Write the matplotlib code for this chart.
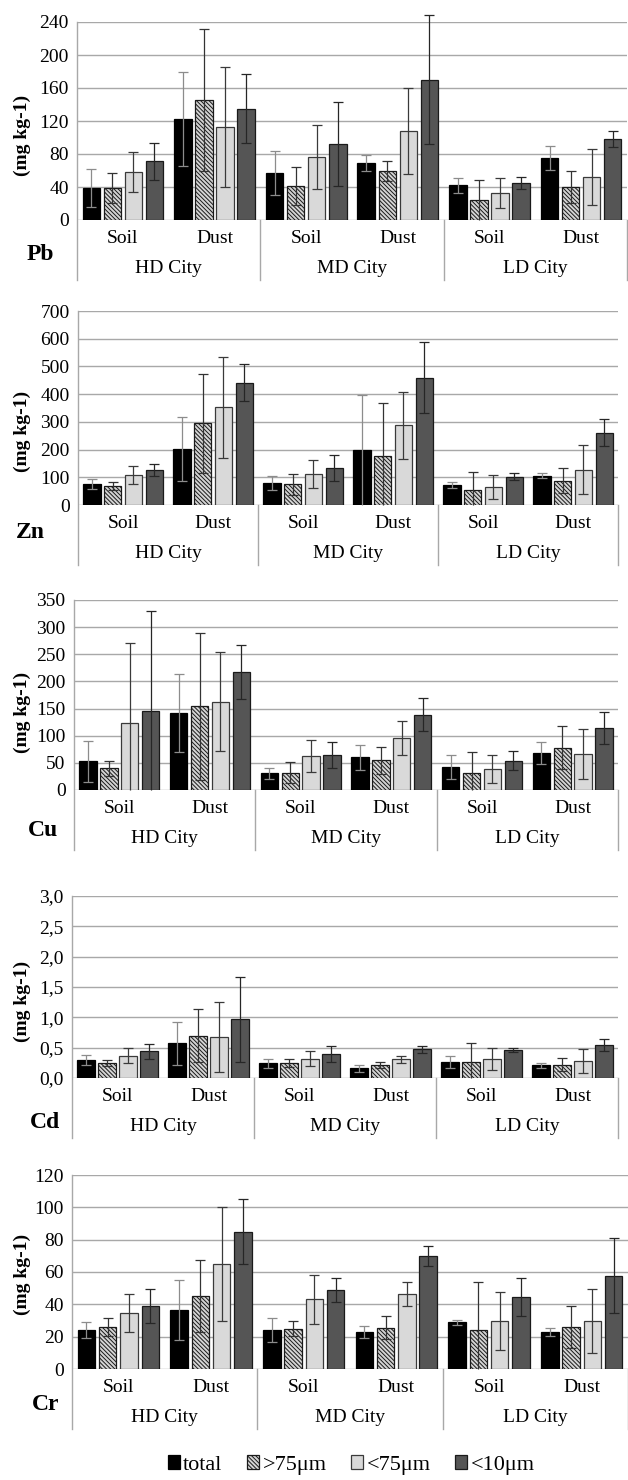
import numpy as np
import matplotlib
matplotlib.use("Agg")
import matplotlib.pyplot as plt
from matplotlib.patches import Patch
from matplotlib.ticker import FuncFormatter, MultipleLocator
from matplotlib.transforms import blended_transform_factory

plt.rcParams["font.family"] = ["Liberation Serif", "DejaVu Serif"]
plt.rcParams["hatch.linewidth"] = 0.7
plt.rcParams["hatch.color"] = "#404040"

# groups: HD Soil, HD Dust, MD Soil, MD Dust, LD Soil, LD Dust
sample_labels = ["Soil", "Dust"] * 3
city_labels = ["HD City", "MD City", "LD City"]
series_labels = ["total", ">75μm", "<75μm", "<10μm"]

# rows: total, >75um, <75um, <10um
pb_mean = [[39, 122, 57, 69, 42, 75],
           [39, 145, 41, 59, 24, 40],
           [58, 113, 76, 108, 33, 52],
           [71, 135, 92, 170, 45, 98]]
pb_err = [[23, 57, 27, 10, 9.5, 14.5],
          [18, 86, 23, 12, 25, 19],
          [24, 73, 39, 52, 18, 34],
          [22, 42, 51, 78, 7.5, 10]]

zn_mean = [[75, 201, 78, 198, 72, 105],
           [69, 295, 75, 178, 53, 88],
           [108, 353, 111, 287, 65, 127],
           [127, 442, 132, 460, 102, 261]]
zn_err = [[19, 116, 25, 200, 10, 9],
          [15, 178, 38, 189, 67, 45],
          [33, 182, 50, 122, 42, 88],
          [22, 67, 47, 128, 12, 48]]

cu_mean = [[53, 142, 31, 60, 43, 68],
           [40, 154, 32, 55, 32, 78],
           [123, 163, 63, 96, 39, 66],
           [146, 217, 65, 139, 54, 114]]
cu_err = [[38, 72, 10, 23, 22, 20],
          [14, 135, 19, 25, 38, 40],
          [147, 91, 30, 32, 26, 46],
          [183, 50, 24, 30, 18, 29]]

cd_mean = [[0.30, 0.575, 0.24, 0.16, 0.27, 0.21],
           [0.24, 0.70, 0.25, 0.21, 0.26, 0.22],
           [0.37, 0.68, 0.32, 0.31, 0.31, 0.28],
           [0.44, 0.97, 0.39, 0.47, 0.46, 0.55]]
cd_err = [[0.085, 0.355, 0.07, 0.055, 0.10, 0.04],
          [0.05, 0.43, 0.065, 0.05, 0.32, 0.11],
          [0.13, 0.58, 0.13, 0.055, 0.18, 0.19],
          [0.12, 0.70, 0.13, 0.06, 0.035, 0.10]]

cr_mean = [[24, 36.5, 24, 23, 28.8, 22.8],
           [26, 45, 25, 25.5, 24.3, 25.7],
           [34.5, 65, 43, 46.5, 29.6, 29.6],
           [39, 85, 49, 70, 44.3, 57.8]]
cr_err = [[5, 18.7, 7.5, 3.6, 1.8, 2.4],
          [5.7, 22.3, 4.7, 7, 29.4, 13],
          [11.7, 35, 15, 7.6, 18, 20],
          [10.4, 20, 7.4, 6.2, 11.7, 23]]

W, H = 628, 1480
GRID = "#a8a8a8"

# element, mean, err, ymax, step, decimal comma, (left, right, top, zero) px,
# element label (x, y) px, y-label centre y px
panels = [
    ("Pb", pb_mean, pb_err, 240, 40, False, (77, 627, 22, 220), (40, 255), 135),
    ("Zn", zn_mean, zn_err, 700, 100, False, (78, 618, 311, 505), (30, 532), 431),
    ("Cu", cu_mean, cu_err, 350, 50, False, (74, 618, 600, 790), (43, 830), 712),
    ("Cd", cd_mean, cd_err, 3.0, 0.5, True, (72, 618, 896, 1078), (45, 1122), 1001),
    ("Cr", cr_mean, cr_err, 120, 20, False, (72, 628, 1175, 1369), (46, 1404), 1274),
]

styles = [
    dict(color="#000000", edgecolor="#000000"),
    dict(color="#d4d4d4", edgecolor="#1a1a1a", hatch="\\\\\\\\\\\\\\\\"),
    dict(color="#d9d9d9", edgecolor="#3a3a3a"),
    dict(color="#555555", edgecolor="#1a1a1a"),
]
err_colors = ["#8c8c8c", "#333333", "#3a3a3a", "#262626"]

fig = plt.figure(figsize=(W / 100, H / 100), dpi=100)

width = 0.19
step = 0.23
centers = np.arange(6) + 0.5

for name, mean, err, ymax, ystep, comma, (l, r, t, z), (ex, ey), yl_y in panels:
    ax = fig.add_axes([l / W, 1 - z / H, (r - l) / W, (z - t) / H])
    hpx = z - t
    for j in range(4):
        x = centers + (j - 1.5) * step
        m = np.array(mean[j], dtype=float)
        e = np.array(err[j], dtype=float)
        ax.bar(x, m, width, linewidth=0.9, zorder=2, **styles[j])
        lo = np.maximum(m - e, 0)
        hi = m + e
        ec = err_colors[j]
        ax.vlines(x, lo, hi, colors=ec, linewidth=0.9, zorder=3, clip_on=False)
        ax.plot(x, hi, ls="none", marker="_", ms=7, mew=0.9, color=ec, zorder=3, clip_on=False)
        keep = m - e >= 0
        ax.plot(x[keep], (m - e)[keep], ls="none", marker="_", ms=7, mew=0.9, color=ec,
                zorder=3, clip_on=False)
    ax.set_xlim(0, 6)
    ax.set_ylim(0, ymax)
    ax.yaxis.set_major_locator(MultipleLocator(ystep))
    if comma:
        ax.yaxis.set_major_formatter(FuncFormatter(lambda v, p: f"{v:.1f}".replace(".", ",")))
    else:
        ax.yaxis.set_major_formatter(FuncFormatter(lambda v, p: f"{v:.0f}"))
    ax.set_xticks([])
    ax.tick_params(axis="y", length=0, pad=6, labelsize=14)
    ax.yaxis.grid(True, color=GRID, linewidth=1.0, zorder=0)
    ax.set_axisbelow(True)
    for s in ax.spines.values():
        s.set_visible(False)

    tr = blended_transform_factory(ax.transData, ax.transAxes)
    ax.plot([0, 0], [1, -60 / hpx], color=GRID, lw=1.0, transform=tr, clip_on=False)
    for xs in (2, 4, 6):
        ax.plot([xs, xs], [0, -60 / hpx], color=GRID, lw=1.0, transform=tr, clip_on=False)
    for c, lab in zip(centers, sample_labels):
        ax.text(c, -18.5 / hpx, lab, transform=tr, ha="center", va="center", fontsize=14)
    for k, lab in enumerate(city_labels):
        ax.text(2 * k + 1, -48.5 / hpx, lab, transform=tr, ha="center", va="center", fontsize=14)

    fig.text(ex / W, 1 - ey / H, name, ha="center", va="center", fontsize=17, fontweight="bold")
    fig.text(22 / W, 1 - yl_y / H, "(mg kg-1)", rotation=90, ha="center", va="center",
             fontsize=14, fontweight="bold")

handles = [Patch(facecolor=s["color"], edgecolor=s["edgecolor"], hatch=s.get("hatch"),
                 linewidth=0.9) for s in styles]
fig.legend(handles, series_labels, loc="center", bbox_to_anchor=(351 / W, 1 - 1465 / H),
           ncol=4, frameon=False, fontsize=16, handlelength=0.55, handleheight=0.55,
           handletextpad=0.15, columnspacing=1.1, borderaxespad=0)

fig.savefig("out.png", dpi=100)
plt.close(fig)
